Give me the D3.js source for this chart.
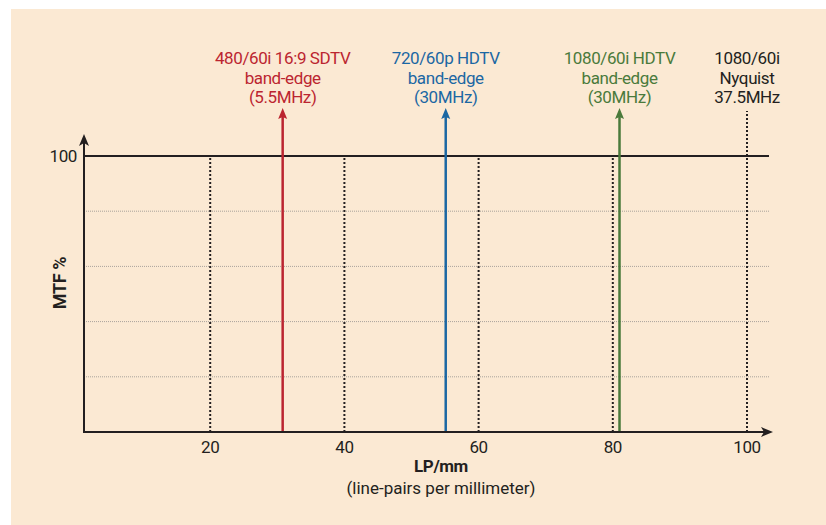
<!DOCTYPE html>
<html>
<head>
<meta charset="utf-8">
<script src="https://cdn.jsdelivr.net/npm/d3@7"></script>
<style>
  body { margin: 0; background: #fff; }
  text { font-family: "Liberation Sans Narrow", "Roboto", "DejaVu Sans Condensed", sans-serif; letter-spacing: -0.4px; }
</style>
</head>
<body>
<div id="chart"></div>
<script>
// chart data
var xTicks = [20, 40, 60, 80, 100];
var yGrid = [20, 40, 60, 80];
var yTicks = [100];
var markerNames = ["sdtv", "hd720", "hd1080", "nyquist"];
var markerValues = [30.8, 55.1, 81.0, 100];
var markerColors = ["#bb2530", "#1b67a3", "#4a7a3b", "#231f20"];
var markerLabels = [
  ["480/60i 16:9 SDTV", "band-edge", "(5.5MHz)"],
  ["720/60p HDTV", "band-edge", "(30MHz)"],
  ["1080/60i HDTV", "band-edge", "(30MHz)"],
  ["1080/60i", "Nyquist", "37.5MHz"]
];

var svgWidth = 826;
var svgHeight = 525;
var ink = "#231f20";

var svg = d3.select("#chart")
  .append("svg")
  .attr("width", svgWidth)
  .attr("height", svgHeight);

// panel background
svg.append("rect")
  .attr("x", 11).attr("y", 9)
  .attr("width", svgWidth - 11).attr("height", svgHeight - 9)
  .attr("fill", "#fbe9d3");

// plot frame
var plotLeft = 84, plotRight = 769, plotBottom = 432;

var x = d3.scaleLinear().domain([0, 100]).range([76, 747]);
var y = d3.scaleLinear().domain([0, 100]).range([plotBottom, 156]);

// light horizontal grid
svg.selectAll(".hgrid").data(yGrid).enter()
  .append("line")
  .attr("x1", plotLeft).attr("x2", plotRight)
  .attr("y1", d => y(d)).attr("y2", d => y(d))
  .attr("stroke", "#a9a39c")
  .attr("stroke-width", 1)
  .attr("stroke-dasharray", "1,1");

// dotted vertical tick lines
svg.selectAll(".vgrid").data(xTicks.filter(d => d < 100)).enter()
  .append("line")
  .attr("x1", d => x(d)).attr("x2", d => x(d))
  .attr("y1", plotBottom).attr("y2", y(100))
  .attr("stroke", ink)
  .attr("stroke-width", 2)
  .attr("stroke-dasharray", "2,2");

// 100% line
svg.append("line")
  .attr("x1", plotLeft).attr("x2", plotRight)
  .attr("y1", y(100)).attr("y2", y(100))
  .attr("stroke", ink)
  .attr("stroke-width", 2);

// markers
var arrowTop = 108;
markerValues.forEach(function(v, i) {
  var cx = x(v);
  var c = markerColors[i];
  if (markerNames[i] === "nyquist") {
    svg.append("line")
      .attr("x1", cx).attr("x2", cx)
      .attr("y1", plotBottom).attr("y2", arrowTop + 3)
      .attr("stroke", c)
      .attr("stroke-width", 2)
      .attr("stroke-dasharray", "2,2");
  } else {
    svg.append("line")
      .attr("x1", cx).attr("x2", cx)
      .attr("y1", plotBottom).attr("y2", arrowTop + 6)
      .attr("stroke", c)
      .attr("stroke-width", 2.5);
    svg.append("path")
      .attr("d", `M${cx},${arrowTop} L${cx - 4.5},${arrowTop + 11} L${cx},${arrowTop + 9} L${cx + 4.5},${arrowTop + 11} Z`)
      .attr("fill", c);
  }
  var lbl = svg.append("text")
    .attr("x", cx)
    .attr("y", 64)
    .attr("text-anchor", "middle")
    .attr("fill", c)
    .style("font-size", "17px");
  markerLabels[i].forEach(function(t, j) {
    lbl.append("tspan")
      .attr("x", cx)
      .attr("dy", j === 0 ? 0 : 19.5)
      .text(t);
  });
});

// axes
svg.append("line")
  .attr("x1", plotLeft).attr("x2", plotLeft)
  .attr("y1", plotBottom + 1).attr("y2", 142)
  .attr("stroke", ink).attr("stroke-width", 2);
svg.append("path")
  .attr("d", `M${plotLeft},134 L${plotLeft - 5},146 L${plotLeft},143 L${plotLeft + 5},146 Z`)
  .attr("fill", ink);

svg.append("line")
  .attr("x1", plotLeft - 1).attr("x2", 764)
  .attr("y1", plotBottom).attr("y2", plotBottom)
  .attr("stroke", ink).attr("stroke-width", 2);
svg.append("path")
  .attr("d", `M773,${plotBottom} L761,${plotBottom - 5} L764,${plotBottom} L761,${plotBottom + 5} Z`)
  .attr("fill", ink);

// tick labels
svg.selectAll(".xlab").data(xTicks).enter()
  .append("text")
  .attr("x", d => x(d))
  .attr("y", 453)
  .attr("text-anchor", "middle")
  .attr("fill", ink)
  .style("font-size", "17px")
  .text(d => d);

svg.selectAll(".ylab").data(yTicks).enter()
  .append("text")
  .attr("x", 77)
  .attr("y", y(100) + 6)
  .attr("text-anchor", "end")
  .attr("fill", ink)
  .style("font-size", "17px")
  .text(d => d);

// axis titles
svg.append("text")
  .attr("x", 441).attr("y", 472)
  .attr("text-anchor", "middle")
  .attr("fill", ink)
  .style("font-size", "17px")
  .style("font-weight", "bold")
  .text("LP/mm");

svg.append("text")
  .attr("x", 441).attr("y", 494)
  .attr("text-anchor", "middle")
  .attr("fill", ink)
  .style("font-size", "17px")
  .style("letter-spacing", "0px")
  .text("(line-pairs per millimeter)");

svg.append("text")
  .attr("transform", "translate(66, 283) rotate(-90)")
  .attr("text-anchor", "middle")
  .attr("fill", ink)
  .style("font-size", "18px")
  .style("font-weight", "bold")
  .text("MTF %");
</script>
</body>
</html>
